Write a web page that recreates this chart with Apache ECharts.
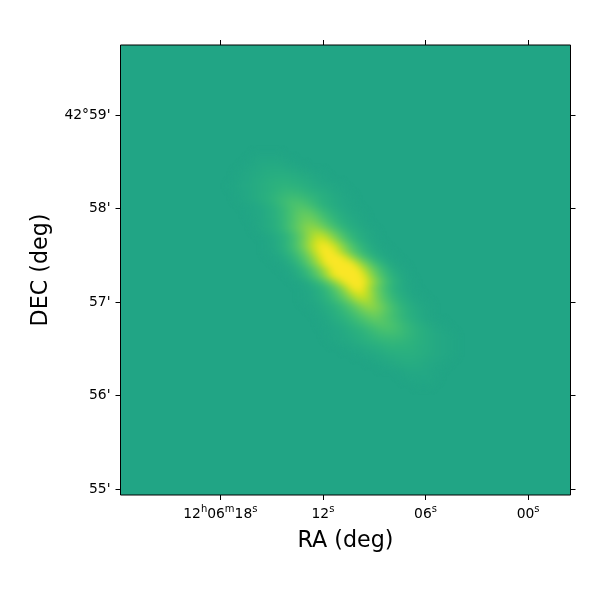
<!DOCTYPE html>
<html><head><meta charset="utf-8">
<style>html,body{margin:0;padding:0;background:#fff}#c{width:600px;height:600px}#c canvas:nth-of-type(2){filter:blur(3px)}</style>
<script src="https://cdn.jsdelivr.net/npm/echarts@6/dist/echarts.min.js"></script>
</head><body><div id="c"></div>
<script>
const raTicks=[18,12,6,0];
const raLabels=['{n|12}{s|h}{n|06}{s|m}{n|18}{s|s}','{n|12}{s|s}','{n|06}{s|s}','{n|00}{s|s}'];
const decTicks=[55,56,57,58,59];
const decLabels=["55'","56'","57'","58'","42°59'"];
const firstRow=18;
const rowStarts=[22,21,20,19,19,18,19,19,20,21,21,22,22,23,24,24,24,25,26,27,28,29,30,30,30,31,32,33,33,34,34,35,37,39,41,43,46,47,49];
const rowValues=[
[1,2,2,2,1],
[1,2,3,3,3,3,2,1],
[1,2,3,4,5,5,5,4,3,2,1],
[1,2,3,4,5,6,7,7,7,6,5,4,3,2,1],
[1,2,3,5,6,8,9,10,10,9,8,6,5,3,2,1],
[1,2,3,4,5,7,9,11,12,13,12,11,9,7,5,4,3,2,1],
[1,2,3,5,7,9,11,14,16,17,16,14,11,9,7,5,3,2,1],
[1,2,4,5,8,10,14,17,20,22,22,20,17,14,10,8,5,4,2,1],
[1,2,3,5,8,12,17,22,27,29,27,22,17,12,8,5,3,2,1],
[1,2,3,6,9,14,19,26,32,35,32,26,19,14,9,6,3,2,1],
[1,2,3,6,9,14,20,27,36,41,41,36,27,20,14,9,6,3,2,1],
[1,3,5,8,13,19,27,36,44,48,44,36,27,19,13,8,5,3,1],
[1,3,5,8,13,20,29,39,50,57,57,50,39,29,20,13,8,5,3,1],
[1,3,5,9,14,22,33,46,60,70,70,60,46,33,22,14,9,5,3,1],
[1,3,7,12,20,31,46,62,78,86,78,62,46,31,20,12,7,3,1],
[1,3,7,13,21,32,48,66,84,96,96,84,66,48,32,21,13,7,3,1],
[1,2,5,10,17,27,40,58,78,96,100,96,78,58,40,27,17,10,5,2,1],
[1,2,6,11,20,31,47,66,88,100,100,100,88,66,47,31,20,11,6,2,1],
[1,3,7,14,24,38,55,76,97,100,100,100,97,76,55,38,24,14,7,3,1],
[1,3,7,14,24,38,55,76,97,100,100,100,97,76,55,38,24,14,7,3,1],
[2,5,10,18,30,46,66,90,100,100,100,100,90,66,46,30,18,10,5,2],
[1,3,8,14,24,38,56,76,96,100,100,96,76,56,38,24,14,8,3,1],
[1,3,6,12,20,32,48,68,92,100,92,68,48,32,20,12,6,3,1],
[1,2,5,9,15,24,36,52,70,84,84,70,52,36,24,15,9,5,2,1],
[1,2,4,7,12,18,27,38,52,66,72,66,52,38,27,18,12,7,4,2,1],
[1,2,4,7,11,16,24,33,45,55,60,55,45,33,24,16,11,7,4,2,1],
[1,3,5,8,13,18,25,33,42,48,48,42,33,25,18,13,8,5,3,1],
[1,3,6,9,13,18,24,30,36,40,36,30,24,18,13,9,6,3,1],
[1,2,4,6,9,13,17,22,27,31,33,31,27,22,17,13,9,6,4,2,1],
[1,2,3,5,8,11,14,18,22,26,27,26,22,18,14,11,8,5,3,2,1],
[1,2,3,4,6,8,11,14,17,20,21,21,20,17,14,11,8,6,4,3,2,1],
[1,2,3,4,6,8,10,12,14,15,16,15,14,12,10,8,6,4,3,2,1],
[1,2,3,4,6,7,9,11,12,12,12,11,9,7,6,4,3,2,1],
[1,2,3,4,5,7,8,9,9,9,8,7,5,4,3,2,1],
[1,2,3,4,5,6,7,7,6,5,4,3,2,1],
[1,2,3,4,5,5,5,4,3,2,1],
[1,2,3,3,3,2,1],
[1,2,2,2,2,1],
[1,1,1]
];
const colorStops=['#21a585','#2eb37c','#44bf70','#5ec962','#7ad151','#9bd93c','#bddf26','#dfe318','#fde725'];
const cats=Array.from({length:75},(_,i)=>i);
const cells=[];
rowValues.forEach((vals,r)=>vals.forEach((v,k)=>cells.push([rowStarts[r]+k,firstRow+r,v])));
const font='"DejaVu Sans"';
const rich={n:{fontFamily:font,fontSize:13.89,color:'#000',lineHeight:17,verticalAlign:'bottom'},s:{fontFamily:font,fontSize:10,color:'#000',lineHeight:17,verticalAlign:'top',padding:[0,0,6,0]}};
const tick={show:true,length:5,inside:false,lineStyle:{color:'#000',width:1}};
const raBase={type:'value',inverse:true,min:-2.48,max:23.84,splitLine:{show:false},axisLine:{show:false,onZero:false}};
const decBase={type:'value',min:54.936,max:59.749,splitLine:{show:false},axisLine:{show:false,onZero:false}};
const chart=echarts.init(document.getElementById('c'),null,{renderer:'canvas'});
chart.setOption({
 animation:false,
 grid:{left:120.5,top:45,width:450,height:450,show:true,backgroundColor:'#21a585',borderColor:'#000',borderWidth:1},
 xAxis:[
  {type:'category',data:cats,show:false},
  Object.assign({},raBase,{position:'bottom',name:'RA (deg)',nameLocation:'middle',nameGap:35,
    nameTextStyle:{fontFamily:font,fontSize:22.2,color:'#000'},
    axisTick:Object.assign({},tick,{customValues:raTicks}),
    axisLabel:{show:true,margin:9,customValues:raTicks,rich,formatter:v=>raLabels[raTicks.indexOf(v)]||''}}),
  Object.assign({},raBase,{position:'top',axisTick:Object.assign({},tick,{customValues:raTicks}),axisLabel:{show:false}})
 ],
 yAxis:[
  {type:'category',data:cats,inverse:true,show:false},
  Object.assign({},decBase,{position:'left',name:'DEC (deg)',nameLocation:'middle',nameGap:68,
    nameTextStyle:{fontFamily:font,fontSize:22.2,color:'#000'},
    axisTick:Object.assign({},tick,{customValues:decTicks}),
    axisLabel:{show:true,margin:10,fontFamily:font,fontSize:13.89,color:'#000',padding:[4,0,0,0],customValues:decTicks,formatter:v=>decLabels[decTicks.indexOf(v)]||''}}),
  Object.assign({},decBase,{position:'right',axisTick:Object.assign({},tick,{customValues:decTicks}),axisLabel:{show:false}})
 ],
 visualMap:{show:false,min:0,max:100,seriesIndex:0,inRange:{color:colorStops}},
 series:[{type:'heatmap',xAxisIndex:0,yAxisIndex:0,zlevel:1,data:cells,silent:true,itemStyle:{borderWidth:0},emphasis:{disabled:true}}]
});
</script></body></html>
